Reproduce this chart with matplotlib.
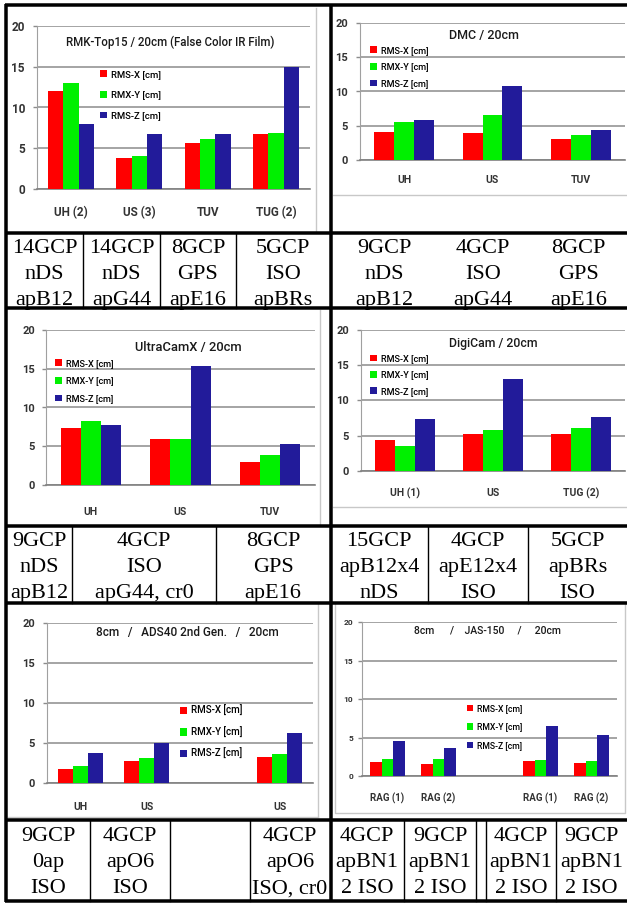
import numpy as np
import matplotlib
matplotlib.use("Agg")
import matplotlib.pyplot as plt
from matplotlib.patches import Patch

nan = np.nan

# ---------------- data ----------------
series_labels = ["RMS-X [cm]", "RMX-Y [cm]", "RMS-Z [cm]"]
y_ticks = [0, 5, 10, 15, 20]

rmk_title = "RMK-Top15 / 20cm (False Color IR Film)"
rmk_categories = ["UH (2)", "US (3)", "TUV", "TUG (2)"]
rmk_rms_x = [12.0, 3.8, 5.6, 6.8]
rmk_rmx_y = [13.0, 4.1, 6.1, 6.9]
rmk_rms_z = [8.0, 6.8, 6.8, 15.0]

dmc_title = "DMC / 20cm"
dmc_categories = ["UH", "US", "TUV"]
dmc_rms_x = [4.1, 4.0, 3.1]
dmc_rmx_y = [5.6, 6.6, 3.6]
dmc_rms_z = [5.9, 10.8, 4.4]

ucx_title = "UltraCamX / 20cm"
ucx_categories = ["UH", "US", "TUV"]
ucx_rms_x = [7.4, 5.9, 3.0]
ucx_rmx_y = [8.2, 5.9, 3.9]
ucx_rms_z = [7.7, 15.3, 5.3]

digicam_title = "DigiCam / 20cm"
digicam_categories = ["UH (1)", "US", "TUG (2)"]
digicam_rms_x = [4.4, 5.2, 5.2]
digicam_rmx_y = [3.5, 5.8, 6.1]
digicam_rms_z = [7.4, 13.1, 7.7]

ads40_title = "8cm   /   ADS40 2nd Gen.   /   20cm"
ads40_categories = ["UH", "US", "", "US"]
ads40_rms_x = [1.8, 2.7, nan, 3.2]
ads40_rmx_y = [2.1, 3.1, nan, 3.6]
ads40_rms_z = [3.7, 5.0, nan, 6.2]

jas_title = "8cm      /    JAS-150     /     20cm"
jas_categories = ["RAG (1)", "RAG (2)", "", "RAG (1)", "RAG (2)"]
jas_rms_x = [1.8, 1.5, nan, 1.9, 1.7]
jas_rmx_y = [2.2, 2.2, nan, 2.1, 2.0]
jas_rms_z = [4.5, 3.6, nan, 6.5, 5.3]

row1_left_cells = [["14GCP", "nDS", "apB12"], ["14GCP", "nDS", "apG44"],
                   ["8GCP", "GPS", "apE16"], ["5GCP", "ISO", "apBRs"]]
row1_right_cells = [["9GCP", "nDS", "apB12"], ["4GCP", "ISO", "apG44"],
                    ["8GCP", "GPS", "apE16"]]
row2_left_cells = [["9GCP", "nDS", "apB12"], ["4GCP", "ISO", "apG44, cr0"],
                   ["8GCP", "GPS", "apE16"]]
row2_right_cells = [["15GCP", "apB12x4", "nDS"], ["4GCP", "apE12x4", "ISO"],
                    ["5GCP", "apBRs", "ISO"]]
row3_left_cells = [["9GCP", "0ap", "ISO"], ["4GCP", "apO6", "ISO"],
                   ["", "", ""], ["4GCP", "apO6", "ISO, cr0"]]
row3_right_cells = [["4GCP", "apBN1", "2 ISO"], ["9GCP", "apBN1", "2 ISO"],
                    ["", "", ""], ["4GCP", "apBN1", "2 ISO"], ["9GCP", "apBN1", "2 ISO"]]

# ---------------- style ----------------
W, H = 627, 905
RED, GREEN, BLUE = "#ff0000", "#00f000", "#221b9a"
COLORS = [RED, GREEN, BLUE]
GRID = "#8c8c8c"
SANS = ["Roboto", "DejaVu Sans"]
SERIF = ["Liberation Serif", "DejaVu Serif"]
PT = 0.72  # points per pixel at dpi 100

fig = plt.figure(figsize=(W / 100, H / 100), dpi=100)


def px_rect(x0, y0, x1, y1):
    return [x0 / W, 1 - y1 / H, (x1 - x0) / W, (y1 - y0) / H]


def draw_chart(cats, sx, sy, sz, title, plot_px, label_y, title_xy, title_fs,
               legend_xy, legend_sp, tick_fs, cat_fs, ygap, leg_fs=6.8):
    x0, y0, x1, y1 = plot_px
    ax = fig.add_axes(px_rect(x0, y0, x1, y1))
    n = len(cats)
    pos = np.arange(n)
    w = 0.225
    for off, vals, col, lab in zip((-w, 0.0, w), (sx, sy, sz), COLORS, series_labels):
        ax.bar(pos + off, vals, w, color=col, label=lab, zorder=3, linewidth=0)
    ax.set_xlim(-0.5, n - 0.5)
    ax.set_ylim(0, 20)
    ax.set_yticks(y_ticks, labels=[str(v) for v in y_ticks], fontweight="bold",
                  family=SANS, fontsize=tick_fs, color="#333333")
    ax.set_xticks(pos, labels=cats, fontweight="bold", family=SANS,
                  fontsize=cat_fs, color="#333333", va="center")
    ax.tick_params(axis="x", length=0, pad=(label_y - y1) * PT)
    ax.tick_params(axis="y", length=4 * PT, width=1, color=GRID, pad=(ygap - 4) * PT)
    ax.yaxis.grid(True, color=GRID, linewidth=1.1)
    ax.set_axisbelow(True)
    for s in ("top", "right"):
        ax.spines[s].set_visible(False)
    ax.spines["left"].set_color("#a0a0a0")
    ax.spines["bottom"].set_color("#808080")
    ax.spines["bottom"].set_linewidth(1.2)
    fig.text(title_xy[0] / W, 1 - title_xy[1] / H, title, ha="center", va="center",
             fontsize=title_fs, family=SANS, fontweight="medium", color="#1a1a1a")
    handles = [Patch(facecolor=c, edgecolor="none") for c in COLORS]
    ax.legend(handles, series_labels, loc="center left",
              bbox_to_anchor=(legend_xy[0] / W, 1 - legend_xy[1] / H),
              bbox_transform=fig.transFigure, frameon=False, borderpad=0,
              borderaxespad=0, handlelength=0.75, handleheight=0.75,
              handletextpad=0.4, labelspacing=legend_sp,
              prop={"family": SANS, "size": leg_fs, "weight": "medium"})
    return ax


draw_chart(rmk_categories, rmk_rms_x, rmk_rmx_y, rmk_rms_z, rmk_title,
           (37, 26, 310, 189), 213, (170, 42), 8.3, (100, 95), 1.25, 8.5, 8.5, 12, 6.8)
draw_chart(dmc_categories, dmc_rms_x, dmc_rmx_y, dmc_rms_z, dmc_title,
           (360, 23, 625, 160), 180, (484, 35), 9.0, (370, 67), 0.85, 8.0, 7.5, 12, 6.6)
draw_chart(ucx_categories, ucx_rms_x, ucx_rmx_y, ucx_rms_z, ucx_title,
           (46, 330, 315, 485), 512, (188, 347), 9.3, (55, 381), 0.95, 8.0, 7.5, 11, 6.6)
draw_chart(digicam_categories, digicam_rms_x, digicam_rmx_y, digicam_rms_z, digicam_title,
           (361, 330, 625, 471), 493, (493, 343), 8.8, (370, 375), 0.8, 8.0, 7.5, 12, 6.6)
draw_chart(ads40_categories, ads40_rms_x, ads40_rmx_y, ads40_rms_z, ads40_title,
           (47, 623, 313, 783), 807, (187, 632), 8.5, (180, 732), 1.05, 8.0, 7.5, 12, 7.0)
draw_chart(jas_categories, jas_rms_x, jas_rmx_y, jas_rms_z, jas_title,
           (362, 622, 617, 776), 798, (487, 630), 7.5, (467, 727), 1.1, 6.0, 7.0, 9, 6.2)

# ---------------- overlay: frames, table lines, table text ----------------
ov = fig.add_axes([0, 0, 1, 1], zorder=10)
ov.set_xlim(0, W)
ov.set_ylim(H, 0)
ov.axis("off")

LIGHT = "#c8c8c8"
# chart image frames (light gray)
ov.plot([316, 316], [8, 232], color=LIGHT, lw=1)
ov.plot([333, W], [195, 195], color=LIGHT, lw=1)
ov.plot([320, 320], [310, 525], color=LIGHT, lw=1)
ov.plot([333, W], [507, 507], color=LIGHT, lw=1)
ov.plot([318, 318], [604, 817], color=LIGHT, lw=1)
ov.plot([8, 318], [817, 817], color=LIGHT, lw=1)
ov.plot([335, 335, 625, 625], [604, 813, 813, 604], color=LIGHT, lw=1)

THICK = 3.5 * PT
THIN = 1.4 * PT
# thick horizontal lines
for y in (5, 233, 308, 526, 603, 820, 901):
    ov.plot([5, W], [y, y], color="black", lw=THICK, solid_capstyle="butt")
# thick vertical lines
ov.plot([6, 6], [4, 902], color="black", lw=THICK, solid_capstyle="butt")
ov.plot([330.5, 330.5], [4, 902], color="black", lw=THICK, solid_capstyle="butt")

# table cell boundaries (x) and text rows
row_specs = [
    (row1_left_cells, [6, 83, 160, 236, 330], (233, 308), [246, 272, 298], False),
    (row1_right_cells, [332, 436, 530, W], (233, 308), [246, 272, 298], True),
    (row2_left_cells, [6, 72, 216, 330], (526, 603), [539, 565, 591], False),
    (row2_right_cells, [330, 428, 528, W], (526, 603), [539, 565, 591], False),
    (row3_left_cells, [6, 90, 170, 250, 330], (820, 901), [834, 860, 886], False),
    (row3_right_cells, [330, 404, 476, 486, 556, W], (820, 901), [834, 860, 886], False),
]
FS = 16
em = FS / PT
for cells, xs, (ya, yb), ys, no_dividers in row_specs:
    if not no_dividers:
        for xd in xs[1:-1]:
            ov.plot([xd, xd], [ya, yb], color="black", lw=THIN)
    for i, lines in enumerate(cells):
        cx = (xs[i] + xs[i + 1]) / 2
        for s, yc in zip(lines, ys):
            if s:
                ov.text(cx, yc + 0.33 * em, s, ha="center", va="baseline",
                        fontsize=FS, family=SERIF, color="black")

fig.savefig("out.png", dpi=100)
